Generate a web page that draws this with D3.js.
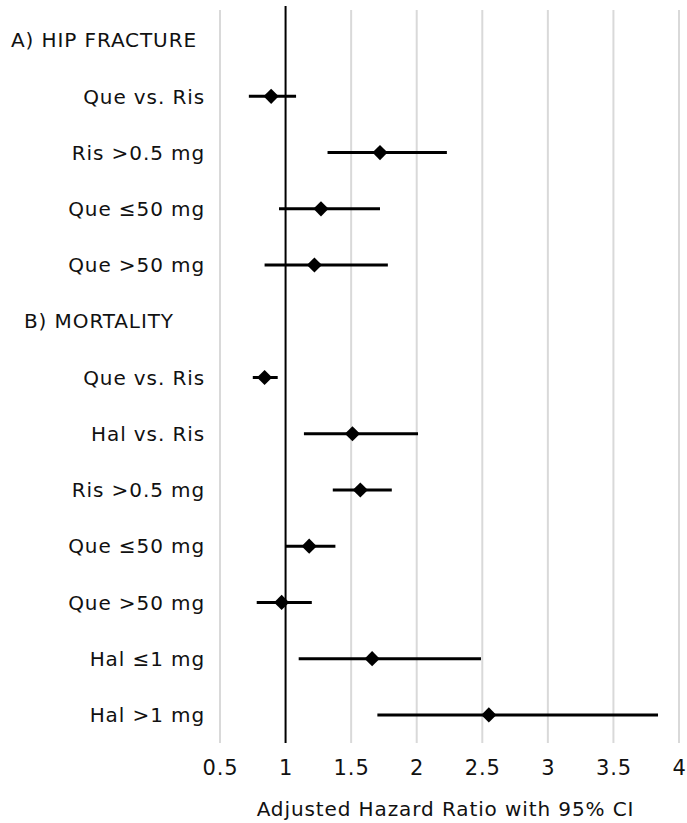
<!DOCTYPE html>
<html>
<head>
<meta charset="utf-8">
<script src="https://cdn.jsdelivr.net/npm/d3@7"></script>
<style>
  body { margin: 0; background: #fff; }
  svg text { font-family: Verdana, "DejaVu Sans", sans-serif; fill: #111; letter-spacing: 0.9px; }
</style>
</head>
<body>
<div id="chart"></div>
<script>
// rows from top to bottom; headers have no estimate
const rowLabels = ["A) HIP FRACTURE", "Que vs. Ris", "Ris >0.5 mg", "Que \u226450 mg", "Que >50 mg",
  "B) MORTALITY", "Que vs. Ris ", "Hal vs. Ris", "Ris >0.5 mg ", "Que \u226450 mg ", "Que >50 mg ", "Hal \u22641 mg", "Hal >1 mg"];
const headerRows = ["A) HIP FRACTURE", "B) MORTALITY"];
const hazardRatio = [null, 0.89, 1.72, 1.27, 1.22, null, 0.84, 1.51, 1.57, 1.18, 0.97, 1.66, 2.55];
const ciLower = [null, 0.72, 1.32, 0.95, 0.84, null, 0.75, 1.14, 1.36, 1.00, 0.78, 1.10, 1.70];
const ciUpper = [null, 1.08, 2.23, 1.72, 1.78, null, 0.94, 2.01, 1.81, 1.38, 1.20, 2.49, 3.84];
const xTicks = [0.5, 1, 1.5, 2, 2.5, 3, 3.5, 4];
const axisTitle = "Adjusted Hazard Ratio with 95% CI";

const W = 687, H = 823;
const margin = { top: 10, right: 8, bottom: 80, left: 220 };

const svg = d3.select("#chart").append("svg")
  .attr("width", W).attr("height", H);

const x = d3.scaleLinear().domain([0.5, 4]).range([margin.left, 679]);
const y = d3.scaleBand().domain(rowLabels).range([12, 743]);
const yc = d => y(d) + y.bandwidth() / 2;

// gridlines
svg.append("g")
  .selectAll("line")
  .data(xTicks.filter(t => t !== 1))
  .join("line")
  .attr("x1", d => x(d)).attr("x2", d => x(d))
  .attr("y1", margin.top).attr("y2", 743)
  .attr("stroke", "#d9d9d9").attr("stroke-width", 2);

// reference line at HR = 1
svg.append("line")
  .attr("x1", x(1)).attr("x2", x(1))
  .attr("y1", 6).attr("y2", 743)
  .attr("stroke", "#000").attr("stroke-width", 2);

// x axis labels
const xAxis = svg.append("g")
  .attr("transform", "translate(0,743)")
  .call(d3.axisBottom(x).tickValues(xTicks).tickSize(0).tickPadding(17).tickFormat(d3.format("")));
xAxis.select(".domain").remove();
xAxis.selectAll("text").style("font-size", "21px").attr("fill", "#111");

svg.append("text")
  .attr("x", (x(0.5) + x(4)) / 2 - 4).attr("y", 816)
  .attr("text-anchor", "middle")
  .style("font-size", "20px")
  .text(axisTitle);

// row labels
const rows = rowLabels.map((r, i) => ({
  label: r.trim(), key: r, hr: hazardRatio[i], lo: ciLower[i], hi: ciUpper[i],
  header: headerRows.includes(r)
}));

svg.append("g").selectAll("text")
  .data(rows)
  .join("text")
  .attr("x", d => d.header ? (d.label.startsWith("A") ? 11 : 24) : 205)
  .attr("y", d => yc(d.key))
  .attr("dy", "0.36em")
  .attr("text-anchor", d => d.header ? "start" : "end")
  .style("font-size", "20px")
  .text(d => d.label);

const est = rows.filter(d => d.hr != null);

// CI lines
svg.append("g").selectAll("line")
  .data(est)
  .join("line")
  .attr("x1", d => x(d.lo)).attr("x2", d => x(d.hi))
  .attr("y1", d => yc(d.key)).attr("y2", d => yc(d.key))
  .attr("stroke", "#000").attr("stroke-width", 3);

// diamonds
svg.append("g").selectAll("path")
  .data(est)
  .join("path")
  .attr("d", d3.symbol(d3.symbolSquare, 115))
  .attr("transform", d => `translate(${x(d.hr)},${yc(d.key)}) rotate(45)`)
  .attr("fill", "#000");
</script>
</body>
</html>
